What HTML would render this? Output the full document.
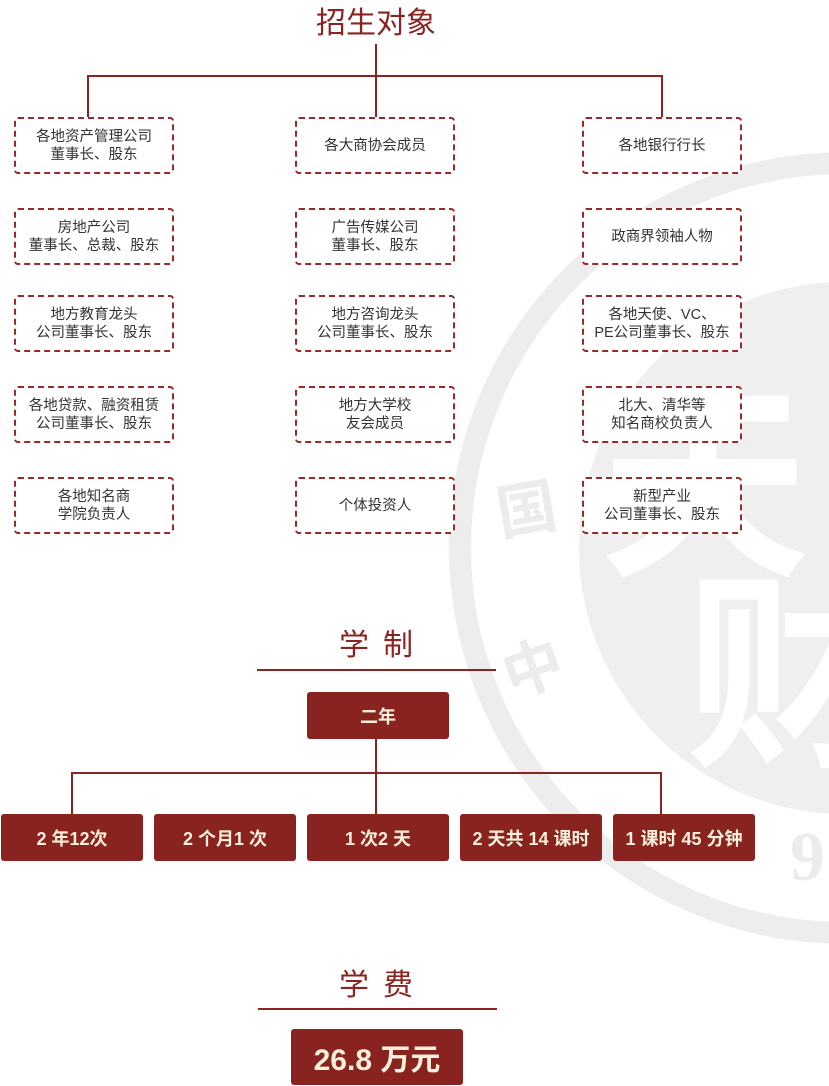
<!DOCTYPE html>
<html><head><meta charset="utf-8"><style>
body{margin:0;width:829px;height:1086px;position:relative;overflow:hidden;background:#fff;font-family:"Liberation Sans","Noto Sans CJK SC",sans-serif}
.a{position:absolute}
.ln{position:absolute;background:#8b2421}
.b{position:absolute;box-sizing:border-box;border:2px dashed #9a2a27;border-radius:4px;background:#fff;display:flex;align-items:center;justify-content:center;text-align:center;font-size:14.5px;line-height:18px;color:#333;width:160px;height:57px}
.r{position:absolute;background:#88231f;border-radius:3px;color:#fbf0dc;font-weight:bold;display:flex;align-items:center;justify-content:center;font-size:18px;width:142px;height:47px}
.t{position:absolute;color:#8b2421;font-size:30px;text-align:center;width:300px}
</style></head><body>
<svg class="a" style="left:0;top:0" width="829" height="1086">
<circle cx="845" cy="548" r="385" fill="none" stroke="#ededed" stroke-width="22"/>
<circle cx="845" cy="548" r="266" fill="#efefef"/>
<text x="600" y="560" font-size="210" fill="#fff" font-family="Noto Sans CJK SC" font-weight="bold">天</text>
<text x="685" y="750" font-size="210" fill="#fff" font-family="Noto Sans CJK SC" font-weight="bold">财</text>
<text x="495" y="530" font-size="60" fill="#ececec" font-family="Noto Sans CJK SC" font-weight="bold" transform="rotate(-10 530 500)">国</text>
<text x="500" y="690" font-size="60" fill="#ececec" font-family="Noto Sans CJK SC" font-weight="bold" transform="rotate(-20 530 660)">中</text>
<text x="790" y="880" font-size="70" fill="#ececec" font-family="Liberation Serif" font-weight="bold">9</text>
</svg>
<div class="t" style="left:226px;top:-2px">招生对象</div>
<div class="ln" style="left:375px;top:44px;width:2px;height:73px"></div>
<div class="ln" style="left:87px;top:75px;width:576px;height:2px"></div>
<div class="ln" style="left:87px;top:75px;width:2px;height:42px"></div>
<div class="ln" style="left:661px;top:75px;width:2px;height:42px"></div>

<div class="b" style="left:14px;top:117px">各地资产管理公司<br>董事长、股东</div>
<div class="b" style="left:14px;top:208px">房地产公司<br>董事长、总裁、股东</div>
<div class="b" style="left:14px;top:295px">地方教育龙头<br>公司董事长、股东</div>
<div class="b" style="left:14px;top:386px">各地贷款、融资租赁<br>公司董事长、股东</div>
<div class="b" style="left:14px;top:477px">各地知名商<br>学院负责人</div>

<div class="b" style="left:295px;top:117px">各大商协会成员</div>
<div class="b" style="left:295px;top:208px">广告传媒公司<br>董事长、股东</div>
<div class="b" style="left:295px;top:295px">地方咨询龙头<br>公司董事长、股东</div>
<div class="b" style="left:295px;top:386px">地方大学校<br>友会成员</div>
<div class="b" style="left:295px;top:477px">个体投资人</div>

<div class="b" style="left:582px;top:117px">各地银行行长</div>
<div class="b" style="left:582px;top:208px">政商界领袖人物</div>
<div class="b" style="left:582px;top:295px">各地天使、VC、<br>PE公司董事长、股东</div>
<div class="b" style="left:582px;top:386px">北大、清华等<br>知名商校负责人</div>
<div class="b" style="left:582px;top:477px">新型产业<br>公司董事长、股东</div>

<div class="t" style="left:226px;top:620px;letter-spacing:14px;text-indent:14px">学制</div>
<div class="ln" style="left:257px;top:669px;width:239px;height:2px"></div>
<div class="r" style="left:307px;top:692px">二年</div>
<div class="ln" style="left:375px;top:739px;width:2px;height:75px"></div>
<div class="ln" style="left:71px;top:772px;width:591px;height:2px"></div>
<div class="ln" style="left:71px;top:772px;width:2px;height:42px"></div>
<div class="ln" style="left:660px;top:772px;width:2px;height:42px"></div>
<div class="r" style="left:1px;top:814px">2 年12次</div>
<div class="r" style="left:154px;top:814px">2 个月1 次</div>
<div class="r" style="left:307px;top:814px">1 次2 天</div>
<div class="r" style="left:460px;top:814px">2 天共 14 课时</div>
<div class="r" style="left:613px;top:814px">1 课时 45 分钟</div>

<div class="t" style="left:226px;top:960px;letter-spacing:14px;text-indent:14px">学费</div>
<div class="ln" style="left:258px;top:1008px;width:239px;height:2px"></div>
<div class="r" style="left:291px;top:1029px;width:172px;height:56px;font-size:30px">26.8 万元</div>
</body></html>
